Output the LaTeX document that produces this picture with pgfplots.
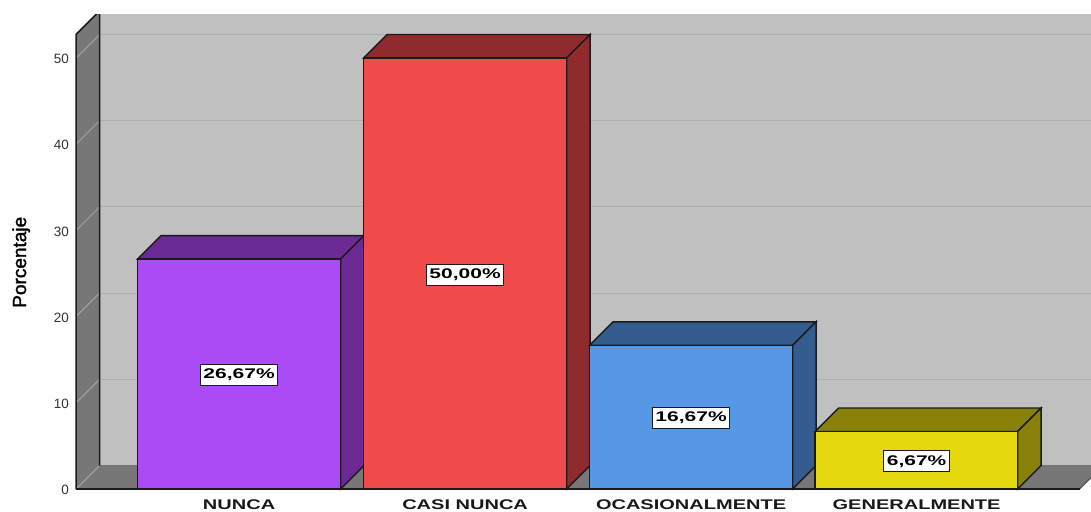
\documentclass[border=0pt]{standalone}
\usepackage{pgfplots}
\pgfplotsset{compat=1.18}
\usepackage{fontspec}
\setmainfont{Liberation Sans}
\newfontfamily\axisfont[FakeBold=1.6]{Liberation Sans}
\definecolor{wallc}{HTML}{777777}
\definecolor{backc}{HTML}{C0C0C0}
\definecolor{gridc}{HTML}{ADADAD}
\definecolor{diagc}{HTML}{A3A3A3}
\definecolor{pf}{HTML}{AB4BF5}\definecolor{pd}{HTML}{6B2A94}
\definecolor{rf}{HTML}{EF4B4B}\definecolor{rd}{HTML}{8F2B2D}
\definecolor{bf}{HTML}{5798E6}\definecolor{bd}{HTML}{345C8F}
\definecolor{yf}{HTML}{E5D80E}\definecolor{yd}{HTML}{8A810A}
\definecolor{edge}{HTML}{1A1A1A}
\begin{document}
\begin{tikzpicture}
\useasboundingbox (-75pt,-19.4pt) rectangle (1016pt,491.6pt);
\begin{axis}[
  at={(0pt,0pt)}, anchor=south west,
  scale only axis, width=1016pt, height=476.8pt,
  xmin=75.4, xmax=1091.4, ymin=-0.3, ymax=55.01,
  axis line style={draw=none}, major tick length=0pt,
  xtick={239.5,465.5,691.5,917},
  xticklabels={\scalebox{1.43}[1]{NUNCA},\scalebox{1.43}[1]{CASI NUNCA},\scalebox{1.43}[1]{OCASIONALMENTE},\scalebox{1.43}[1]{GENERALMENTE}},
  xticklabel style={font=\fontsize{14}{14}\selectfont\bfseries, text=black!90, yshift=-4.8pt},
  ytick={0,10,20,30,40,50},
  /pgf/number format/assume math mode=true,
  yticklabel style={font=\fontsize{13.5}{14}\selectfont, text=black!80, yshift=-1pt, xshift=-2.5pt},
  ylabel={Porcentaje},
  y label style={at={(axis description cs:-0.053,0.481)},anchor=center,font=\axisfont\fontsize{19}{19}\selectfont},
  nodes near coords style={font=\fontsize{14}{14}\selectfont\bfseries, fill=white, draw=edge, line width=0.9pt, inner xsep=3pt, inner ysep=2pt, minimum height=21pt, anchor=center, text=black, yshift=-1pt},
]
% back wall
\addplot[fill=backc, draw=none] coordinates {(100,2.726)(1103.5,2.726)(1103.5,56)(100,56)} --cycle;
% grid on back wall
\addplot[gridc, line width=1.1pt] coordinates {(100,12.726)(1092,12.726)};
\addplot[gridc, line width=1.1pt] coordinates {(100,22.726)(1092,22.726)};
\addplot[gridc, line width=1.1pt] coordinates {(100,32.726)(1092,32.726)};
\addplot[gridc, line width=1.1pt] coordinates {(100,42.726)(1092,42.726)};
\addplot[gridc, line width=1.1pt] coordinates {(100,52.726)(1092,52.726)};
% floor
\addplot[fill=wallc, draw=none] coordinates {(76.5,0)(1080,0)(1103.5,2.726)(100,2.726)} --cycle;
\addplot[black!55, line width=1pt] coordinates {(100,2.726)(1092,2.726)};
\addplot[black!70, line width=1pt] coordinates {(1080,0)(1092,1.39)};
% left wall
\addplot[fill=wallc, draw=none] coordinates {(76.5,0)(76.5,52.726)(100,55.452)(100,2.726)} --cycle;
\addplot[diagc, line width=1pt] coordinates {(76.5,0)(100,2.726)};
\addplot[diagc, line width=1pt] coordinates {(76.5,10)(100,12.726)};
\addplot[diagc, line width=1pt] coordinates {(76.5,20)(100,22.726)};
\addplot[diagc, line width=1pt] coordinates {(76.5,30)(100,32.726)};
\addplot[diagc, line width=1pt] coordinates {(76.5,40)(100,42.726)};
\addplot[diagc, line width=1pt] coordinates {(76.5,50)(100,52.726)};
\addplot[edge, line width=1.6pt] coordinates {(76.5,0)(76.5,52.726)(100,55.452)(100,2.726)};
% base line
\addplot[edge, line width=1.6pt] coordinates {(76.5,0)(1080,0)};
% NUNCA
\addplot[fill=pd, draw=edge, line width=1.4pt] coordinates {(138,26.67)(161.5,29.396)(364.5,29.396)(341,26.67)} --cycle;
\addplot[fill=pd, draw=edge, line width=1.4pt] coordinates {(341,0)(364.5,2.726)(364.5,29.396)(341,26.67)} --cycle;
\addplot[fill=pf, draw=edge, line width=1.4pt] coordinates {(138,0)(138,26.67)(341,26.67)(341,0)} --cycle;
% CASI NUNCA
\addplot[fill=rd, draw=edge, line width=1.4pt] coordinates {(364,50)(387.5,52.726)(590.5,52.726)(567,50)} --cycle;
\addplot[fill=rd, draw=edge, line width=1.4pt] coordinates {(567,0)(590.5,2.726)(590.5,52.726)(567,50)} --cycle;
\addplot[fill=rf, draw=edge, line width=1.4pt] coordinates {(364,0)(364,50)(567,50)(567,0)} --cycle;
% OCASIONALMENTE
\addplot[fill=bd, draw=edge, line width=1.4pt] coordinates {(590,16.67)(613.5,19.396)(816.5,19.396)(793,16.67)} --cycle;
\addplot[fill=bd, draw=edge, line width=1.4pt] coordinates {(793,0)(816.5,2.726)(816.5,19.396)(793,16.67)} --cycle;
\addplot[fill=bf, draw=edge, line width=1.4pt] coordinates {(590,0)(590,16.67)(793,16.67)(793,0)} --cycle;
% GENERALMENTE
\addplot[fill=yd, draw=edge, line width=1.4pt] coordinates {(815.5,6.67)(839,9.396)(1041.5,9.396)(1018,6.67)} --cycle;
\addplot[fill=yd, draw=edge, line width=1.4pt] coordinates {(1018,0)(1041.5,2.726)(1041.5,9.396)(1018,6.67)} --cycle;
\addplot[fill=yf, draw=edge, line width=1.4pt] coordinates {(815.5,0)(815.5,6.67)(1018,6.67)(1018,0)} --cycle;
% value labels
\addplot[draw=none, mark=none, point meta=explicit symbolic,
  nodes near coords={\scalebox{1.5}[1]{\pgfplotspointmeta}}]
  coordinates {(239.5,13.335)[26,67\%] (465.5,25)[50,00\%] (691.5,8.335)[16,67\%] (917,3.335)[6,67\%]};
\end{axis}
\end{tikzpicture}
\end{document}
